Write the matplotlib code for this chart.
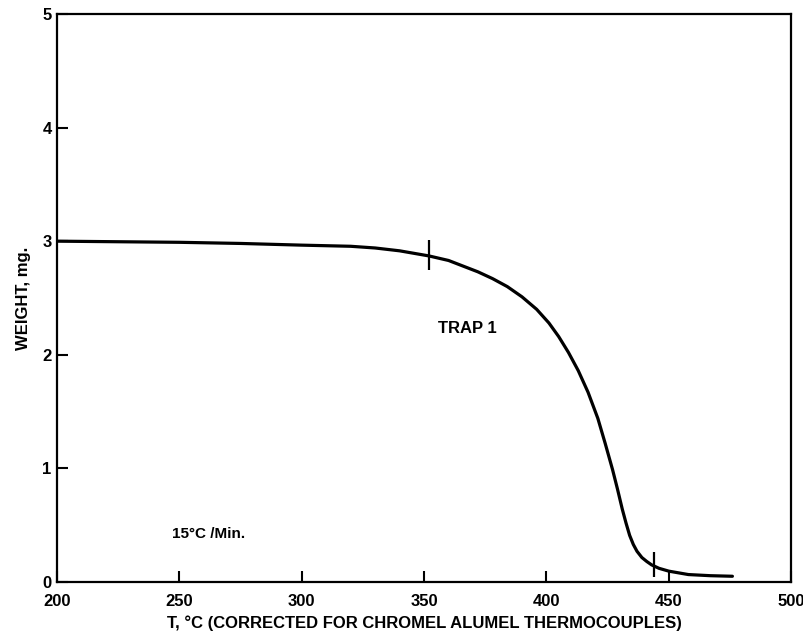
import matplotlib
matplotlib.use("Agg")
import matplotlib.pyplot as plt

# Thermogravimetric weight-loss curve, TRAP 1
temp_c = [200, 225, 250, 275, 300, 310, 320, 330, 340, 352, 360, 366, 372,
          378, 384, 390, 396, 401, 405, 409, 413, 417, 421, 424, 427, 429,
          431, 432.5, 434, 435.5, 437, 439, 441, 443, 446, 450, 458, 467, 476]
weight_mg = [3.00, 2.995, 2.99, 2.98, 2.965, 2.96, 2.955, 2.94, 2.915, 2.87,
             2.83, 2.78, 2.73, 2.67, 2.60, 2.51, 2.40, 2.28, 2.16, 2.02,
             1.86, 1.67, 1.44, 1.22, 0.99, 0.82, 0.64, 0.52, 0.41, 0.33,
             0.27, 0.215, 0.18, 0.15, 0.12, 0.095, 0.065, 0.055, 0.05]

# short vertical marks crossing the curve
mark_temp = [352, 444]
mark_low = [2.75, 0.04]
mark_high = [3.01, 0.26]

x_ticks = [200, 250, 300, 350, 400, 450, 500]
y_ticks = [0, 1, 2, 3, 4, 5]

plt.rcParams['font.family'] = ['Liberation Sans', 'DejaVu Sans']
plt.rcParams['font.weight'] = 'bold'

fig = plt.figure(figsize=(8.04, 6.36), dpi=100)
ax = fig.add_axes([0.071, 0.085, 0.913, 0.893])

ax.plot(temp_c, weight_mg, color='black', linewidth=2.3,
        solid_capstyle='round', solid_joinstyle='round')
ax.vlines(mark_temp, mark_low, mark_high, color='black', linewidth=1.6)

ax.set_xlim(200, 500)
ax.set_ylim(0, 5)
ax.set_xticks(x_ticks)
ax.set_yticks(y_ticks)
ax.tick_params(axis='x', direction='in', length=8, width=1.5, pad=9,
               labelsize=12)
ax.tick_params(axis='y', direction='in', length=8, width=1.5, pad=4,
               labelsize=12)
for lab in ax.get_xticklabels() + ax.get_yticklabels():
    lab.set_fontweight('bold')

for side in ['left', 'bottom', 'right', 'top']:
    ax.spines[side].set_linewidth(1.6)

ax.set_xlabel('T, °C (CORRECTED FOR CHROMEL ALUMEL THERMOCOUPLES)',
              fontsize=12, fontweight='bold', labelpad=4)
ax.set_ylabel('WEIGHT, mg.', fontsize=12, fontweight='bold', labelpad=8)

ax.text(355.5, 2.23, 'TRAP 1', fontsize=12, fontweight='bold',
        ha='left', va='center')
ax.text(247, 0.42, '15°C /Min.', fontsize=11, fontweight='bold',
        ha='left', va='center')

fig.savefig('out.png', dpi=100)
